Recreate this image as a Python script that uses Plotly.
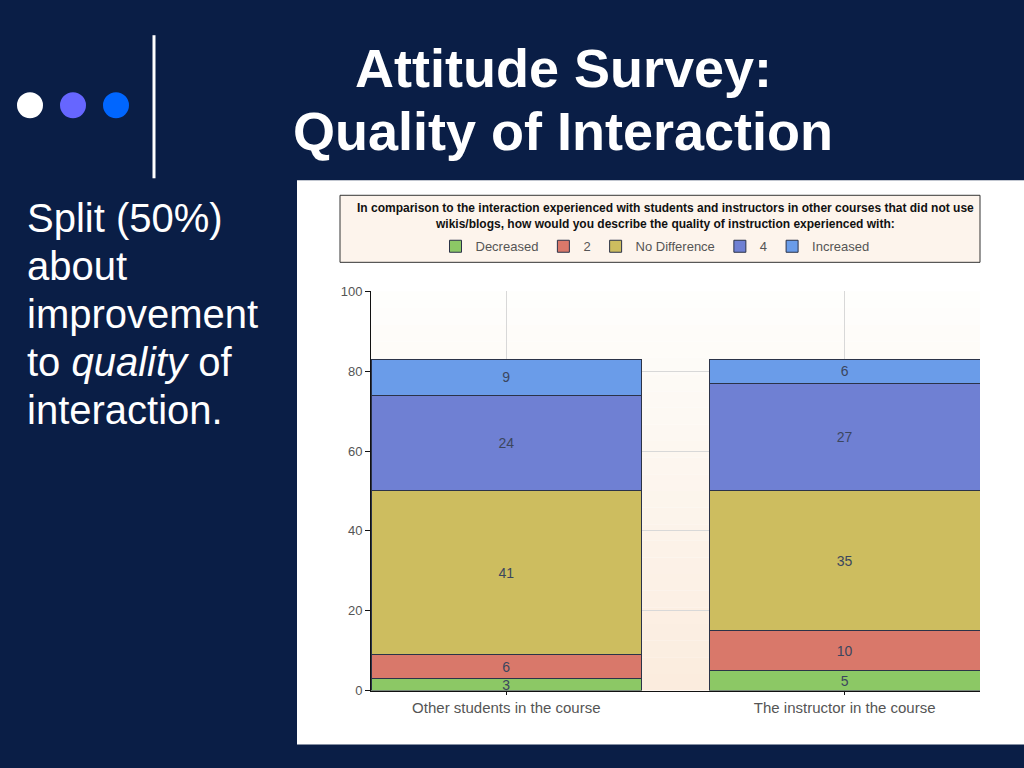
import plotly.graph_objects as go

# ---- data ----
categories = ["Other students in the course", "The instructor in the course"]
series_names = ["Decreased", "2", "No Difference", "4", "Increased"]
decreased = [3, 5]
two = [6, 10]
no_diff = [41, 35]
four = [24, 27]
increased = [9, 6]
y_ticks = [0, 20, 40, 60, 80, 100]

title_lines = ["Attitude Survey:", "Quality of Interaction"]
side_lines = ["Split (50%)", "about", "improvement", "to <i>quality</i> of", "interaction."]
chart_title = ("In comparison to the interaction experienced with students and instructors in other courses that did not use"
               "<br>wikis/blogs, how would you describe the quality of instruction experienced with:")

series_values = [decreased, two, no_diff, four, increased]
colors = ["#8cc865", "#d9786a", "#cdbd5f", "#6f80d3", "#6a9ce9"]

W, H = 1024, 768
def px(x): return x / W
def py(y):
    # compensate for the vertical mapping observed in the rendered page
    return 1 - ((y - 6.8) / 0.98) / H

fig = go.Figure()
for name, vals, c in zip(series_names, series_values, colors):
    fig.add_trace(go.Bar(
        name=name, x=categories, y=vals, text=[str(v) for v in vals],
        textposition="inside", insidetextanchor="middle", constraintext="none",
        textangle=0,
        textfont=dict(family="Liberation Sans, Arial", size=14, color="#3b465e"),
        marker=dict(color=c, line=dict(color="#2b3348", width=1)),
        hoverinfo="skip",
    ))

shapes = []
# white chart panel
shapes.append(dict(type="rect", xref="paper", yref="paper", x0=px(297), x1=1.0,
                   y0=py(744), y1=py(180), fillcolor="white", line=dict(width=0), layer="below"))
# plot-area gradient background
n = 24
top = (254, 254, 252)
bot = (251, 236, 222)
for i in range(n):
    t = i / (n - 1)
    col = tuple(int(round(top[k] + (bot[k] - top[k]) * t)) for k in range(3))
    shapes.append(dict(type="rect", xref="x domain", yref="y domain", x0=0, x1=1,
                       y0=1 - (i + 1) / n, y1=1 - i / n,
                       fillcolor="rgb(%d,%d,%d)" % col, line=dict(width=0), layer="below"))
# legend box
shapes.append(dict(type="rect", xref="paper", yref="paper", x0=px(340), x1=px(980),
                   y0=py(262), y1=py(195), fillcolor="#fdf4ec",
                   line=dict(color="#333333", width=1), layer="below"))
# decorative dots and divider
for cx, col in zip([30, 73, 116], ["#ffffff", "#6666ff", "#0066ff"]):
    shapes.append(dict(type="circle", xref="paper", yref="paper",
                       x0=px(cx - 13), x1=px(cx + 13), y0=py(105 + 13), y1=py(105 - 13),
                       fillcolor=col, line=dict(width=0)))
shapes.append(dict(type="line", xref="paper", yref="paper", x0=px(154), x1=px(154),
                   y0=py(178), y1=py(35), line=dict(color="white", width=3)))

annotations = []
for txt, yy in zip(title_lines, [68, 131]):
    annotations.append(dict(text="<b>%s</b>" % txt, xref="paper", yref="paper",
                            x=px(563), y=py(yy), xanchor="center", yanchor="middle",
                            showarrow=False,
                            font=dict(family="Liberation Sans, Arial", size=54, color="white")))
for i, txt in enumerate(side_lines):
    annotations.append(dict(text=txt, xref="paper", yref="paper",
                            x=px(25), y=py(218 + 48 * i), xanchor="left", yanchor="middle",
                            showarrow=False,
                            font=dict(family="Liberation Sans, Arial", size=40, color="white")))
annotations.append(dict(text="<b>%s</b>" % chart_title, xref="paper", yref="paper",
                        x=px(665), y=py(216), xanchor="center", yanchor="middle",
                        showarrow=False, align="center",
                        font=dict(family="Liberation Sans, Arial", size=12, color="#111111")))

fig.update_layout(
    width=W, height=H, margin=dict(l=0, r=0, t=0, b=0),
    paper_bgcolor="#0a1e46", plot_bgcolor="rgba(0,0,0,0)",
    barmode="stack", bargap=0.2,
    shapes=shapes, annotations=annotations,
    showlegend=True,
    legend=dict(orientation="h", x=px(655), y=py(246), xanchor="center", yanchor="middle",
                traceorder="normal", bgcolor="rgba(0,0,0,0)",
                font=dict(family="Liberation Sans, Arial", size=13, color="#555555"),
                itemclick=False, itemdoubleclick=False),
    xaxis=dict(domain=[px(371), px(980)], range=[-0.4, 1.4], type="category",
               showgrid=True, gridcolor="#d8d8d8", showline=True, linecolor="#111111",
               ticks="outside", ticklen=3, tickcolor="#111111",
               tickfont=dict(family="Liberation Sans, Arial", size=15, color="#555555"),
               fixedrange=True),
    yaxis=dict(domain=[py(690), py(291)], range=[0, 100], tickvals=y_ticks,
               showgrid=True, gridcolor="#d8d8d8", showline=True, linecolor="#111111",
               ticks="outside", ticklen=5, tickcolor="#111111", zeroline=False,
               tickfont=dict(family="Liberation Sans, Arial", size=13, color="#555555"),
               fixedrange=True),
)

fig.write_html("out.html", config={"displayModeBar": False},
               post_script="document.body.style.margin='0';document.body.style.overflow='hidden';")
